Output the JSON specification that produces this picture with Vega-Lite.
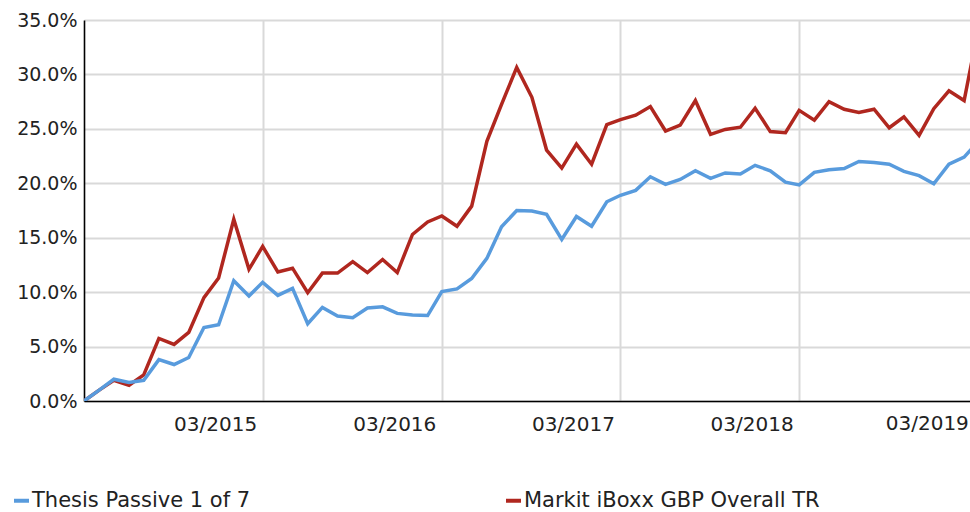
{
  "$schema": "https://vega.github.io/schema/vega-lite/v6.json",
  "width": 886,
  "height": 381,
  "autosize": {"type": "none"},
  "padding": {"left": 84, "top": 20, "right": 0, "bottom": 111},
  "background": "white",
  "config": {"font": "DejaVu Sans", "view": {"stroke": null}},
  "layer": [
    {
      "data": {
        "values": [
          {"date": "2014-03-01", "series": "Markit iBoxx GBP Overall TR", "value": 0},
          {"date": "2014-04-01", "series": "Markit iBoxx GBP Overall TR", "value": 1.0},
          {"date": "2014-05-01", "series": "Markit iBoxx GBP Overall TR", "value": 1.9},
          {"date": "2014-06-01", "series": "Markit iBoxx GBP Overall TR", "value": 1.45},
          {"date": "2014-07-01", "series": "Markit iBoxx GBP Overall TR", "value": 2.4},
          {"date": "2014-08-01", "series": "Markit iBoxx GBP Overall TR", "value": 5.75},
          {"date": "2014-09-01", "series": "Markit iBoxx GBP Overall TR", "value": 5.2},
          {"date": "2014-10-01", "series": "Markit iBoxx GBP Overall TR", "value": 6.3},
          {"date": "2014-11-01", "series": "Markit iBoxx GBP Overall TR", "value": 9.5},
          {"date": "2014-12-01", "series": "Markit iBoxx GBP Overall TR", "value": 11.3},
          {"date": "2015-01-01", "series": "Markit iBoxx GBP Overall TR", "value": 16.7},
          {"date": "2015-02-01", "series": "Markit iBoxx GBP Overall TR", "value": 12.1},
          {"date": "2015-03-01", "series": "Markit iBoxx GBP Overall TR", "value": 14.2},
          {"date": "2015-04-01", "series": "Markit iBoxx GBP Overall TR", "value": 11.85},
          {"date": "2015-05-01", "series": "Markit iBoxx GBP Overall TR", "value": 12.2},
          {"date": "2015-06-01", "series": "Markit iBoxx GBP Overall TR", "value": 9.95},
          {"date": "2015-07-01", "series": "Markit iBoxx GBP Overall TR", "value": 11.75},
          {"date": "2015-08-01", "series": "Markit iBoxx GBP Overall TR", "value": 11.75},
          {"date": "2015-09-01", "series": "Markit iBoxx GBP Overall TR", "value": 12.8},
          {"date": "2015-10-01", "series": "Markit iBoxx GBP Overall TR", "value": 11.8},
          {"date": "2015-11-01", "series": "Markit iBoxx GBP Overall TR", "value": 13.0},
          {"date": "2015-12-01", "series": "Markit iBoxx GBP Overall TR", "value": 11.8},
          {"date": "2016-01-01", "series": "Markit iBoxx GBP Overall TR", "value": 15.3},
          {"date": "2016-02-01", "series": "Markit iBoxx GBP Overall TR", "value": 16.45},
          {"date": "2016-03-01", "series": "Markit iBoxx GBP Overall TR", "value": 17.0},
          {"date": "2016-04-01", "series": "Markit iBoxx GBP Overall TR", "value": 16.05},
          {"date": "2016-05-01", "series": "Markit iBoxx GBP Overall TR", "value": 17.9},
          {"date": "2016-06-01", "series": "Markit iBoxx GBP Overall TR", "value": 23.85},
          {"date": "2016-07-01", "series": "Markit iBoxx GBP Overall TR", "value": 27.25},
          {"date": "2016-08-01", "series": "Markit iBoxx GBP Overall TR", "value": 30.65},
          {"date": "2016-09-01", "series": "Markit iBoxx GBP Overall TR", "value": 27.9},
          {"date": "2016-10-01", "series": "Markit iBoxx GBP Overall TR", "value": 23.05},
          {"date": "2016-11-01", "series": "Markit iBoxx GBP Overall TR", "value": 21.4},
          {"date": "2016-12-01", "series": "Markit iBoxx GBP Overall TR", "value": 23.6},
          {"date": "2017-01-01", "series": "Markit iBoxx GBP Overall TR", "value": 21.75},
          {"date": "2017-02-01", "series": "Markit iBoxx GBP Overall TR", "value": 25.4},
          {"date": "2017-03-01", "series": "Markit iBoxx GBP Overall TR", "value": 25.85},
          {"date": "2017-04-01", "series": "Markit iBoxx GBP Overall TR", "value": 26.25},
          {"date": "2017-05-01", "series": "Markit iBoxx GBP Overall TR", "value": 27.05},
          {"date": "2017-06-01", "series": "Markit iBoxx GBP Overall TR", "value": 24.8},
          {"date": "2017-07-01", "series": "Markit iBoxx GBP Overall TR", "value": 25.35},
          {"date": "2017-08-01", "series": "Markit iBoxx GBP Overall TR", "value": 27.6},
          {"date": "2017-09-01", "series": "Markit iBoxx GBP Overall TR", "value": 24.5},
          {"date": "2017-10-01", "series": "Markit iBoxx GBP Overall TR", "value": 24.95},
          {"date": "2017-11-01", "series": "Markit iBoxx GBP Overall TR", "value": 25.15},
          {"date": "2017-12-01", "series": "Markit iBoxx GBP Overall TR", "value": 26.9},
          {"date": "2018-01-01", "series": "Markit iBoxx GBP Overall TR", "value": 24.75},
          {"date": "2018-02-01", "series": "Markit iBoxx GBP Overall TR", "value": 24.65},
          {"date": "2018-03-01", "series": "Markit iBoxx GBP Overall TR", "value": 26.7},
          {"date": "2018-04-01", "series": "Markit iBoxx GBP Overall TR", "value": 25.8},
          {"date": "2018-05-01", "series": "Markit iBoxx GBP Overall TR", "value": 27.5},
          {"date": "2018-06-01", "series": "Markit iBoxx GBP Overall TR", "value": 26.8},
          {"date": "2018-07-01", "series": "Markit iBoxx GBP Overall TR", "value": 26.5},
          {"date": "2018-08-01", "series": "Markit iBoxx GBP Overall TR", "value": 26.8},
          {"date": "2018-09-01", "series": "Markit iBoxx GBP Overall TR", "value": 25.1},
          {"date": "2018-10-01", "series": "Markit iBoxx GBP Overall TR", "value": 26.1},
          {"date": "2018-11-01", "series": "Markit iBoxx GBP Overall TR", "value": 24.4},
          {"date": "2018-12-01", "series": "Markit iBoxx GBP Overall TR", "value": 26.85},
          {"date": "2019-01-01", "series": "Markit iBoxx GBP Overall TR", "value": 28.5},
          {"date": "2019-02-01", "series": "Markit iBoxx GBP Overall TR", "value": 27.6},
          {"date": "2019-03-01", "series": "Markit iBoxx GBP Overall TR", "value": 34.0},
          {"date": "2014-03-01", "series": "Thesis Passive 1 of 7", "value": 0},
          {"date": "2014-04-01", "series": "Thesis Passive 1 of 7", "value": 1.0},
          {"date": "2014-05-01", "series": "Thesis Passive 1 of 7", "value": 2.0},
          {"date": "2014-06-01", "series": "Thesis Passive 1 of 7", "value": 1.7},
          {"date": "2014-07-01", "series": "Thesis Passive 1 of 7", "value": 1.9},
          {"date": "2014-08-01", "series": "Thesis Passive 1 of 7", "value": 3.8},
          {"date": "2014-09-01", "series": "Thesis Passive 1 of 7", "value": 3.35},
          {"date": "2014-10-01", "series": "Thesis Passive 1 of 7", "value": 4.0},
          {"date": "2014-11-01", "series": "Thesis Passive 1 of 7", "value": 6.75},
          {"date": "2014-12-01", "series": "Thesis Passive 1 of 7", "value": 7.0},
          {"date": "2015-01-01", "series": "Thesis Passive 1 of 7", "value": 11.05},
          {"date": "2015-02-01", "series": "Thesis Passive 1 of 7", "value": 9.65},
          {"date": "2015-03-01", "series": "Thesis Passive 1 of 7", "value": 10.9},
          {"date": "2015-04-01", "series": "Thesis Passive 1 of 7", "value": 9.7},
          {"date": "2015-05-01", "series": "Thesis Passive 1 of 7", "value": 10.35},
          {"date": "2015-06-01", "series": "Thesis Passive 1 of 7", "value": 7.1},
          {"date": "2015-07-01", "series": "Thesis Passive 1 of 7", "value": 8.6},
          {"date": "2015-08-01", "series": "Thesis Passive 1 of 7", "value": 7.8},
          {"date": "2015-09-01", "series": "Thesis Passive 1 of 7", "value": 7.65},
          {"date": "2015-10-01", "series": "Thesis Passive 1 of 7", "value": 8.55},
          {"date": "2015-11-01", "series": "Thesis Passive 1 of 7", "value": 8.65},
          {"date": "2015-12-01", "series": "Thesis Passive 1 of 7", "value": 8.05},
          {"date": "2016-01-01", "series": "Thesis Passive 1 of 7", "value": 7.9},
          {"date": "2016-02-01", "series": "Thesis Passive 1 of 7", "value": 7.85},
          {"date": "2016-03-01", "series": "Thesis Passive 1 of 7", "value": 10.05},
          {"date": "2016-04-01", "series": "Thesis Passive 1 of 7", "value": 10.3},
          {"date": "2016-05-01", "series": "Thesis Passive 1 of 7", "value": 11.25},
          {"date": "2016-06-01", "series": "Thesis Passive 1 of 7", "value": 13.1},
          {"date": "2016-07-01", "series": "Thesis Passive 1 of 7", "value": 16.0},
          {"date": "2016-08-01", "series": "Thesis Passive 1 of 7", "value": 17.5},
          {"date": "2016-09-01", "series": "Thesis Passive 1 of 7", "value": 17.45},
          {"date": "2016-10-01", "series": "Thesis Passive 1 of 7", "value": 17.15},
          {"date": "2016-11-01", "series": "Thesis Passive 1 of 7", "value": 14.85},
          {"date": "2016-12-01", "series": "Thesis Passive 1 of 7", "value": 16.95},
          {"date": "2017-01-01", "series": "Thesis Passive 1 of 7", "value": 16.05},
          {"date": "2017-02-01", "series": "Thesis Passive 1 of 7", "value": 18.3},
          {"date": "2017-03-01", "series": "Thesis Passive 1 of 7", "value": 18.9},
          {"date": "2017-04-01", "series": "Thesis Passive 1 of 7", "value": 19.35},
          {"date": "2017-05-01", "series": "Thesis Passive 1 of 7", "value": 20.6},
          {"date": "2017-06-01", "series": "Thesis Passive 1 of 7", "value": 19.9},
          {"date": "2017-07-01", "series": "Thesis Passive 1 of 7", "value": 20.35},
          {"date": "2017-08-01", "series": "Thesis Passive 1 of 7", "value": 21.15},
          {"date": "2017-09-01", "series": "Thesis Passive 1 of 7", "value": 20.45},
          {"date": "2017-10-01", "series": "Thesis Passive 1 of 7", "value": 20.95},
          {"date": "2017-11-01", "series": "Thesis Passive 1 of 7", "value": 20.85},
          {"date": "2017-12-01", "series": "Thesis Passive 1 of 7", "value": 21.65},
          {"date": "2018-01-01", "series": "Thesis Passive 1 of 7", "value": 21.15},
          {"date": "2018-02-01", "series": "Thesis Passive 1 of 7", "value": 20.1},
          {"date": "2018-03-01", "series": "Thesis Passive 1 of 7", "value": 19.85},
          {"date": "2018-04-01", "series": "Thesis Passive 1 of 7", "value": 21.0},
          {"date": "2018-05-01", "series": "Thesis Passive 1 of 7", "value": 21.25},
          {"date": "2018-06-01", "series": "Thesis Passive 1 of 7", "value": 21.35},
          {"date": "2018-07-01", "series": "Thesis Passive 1 of 7", "value": 22.0},
          {"date": "2018-08-01", "series": "Thesis Passive 1 of 7", "value": 21.9},
          {"date": "2018-09-01", "series": "Thesis Passive 1 of 7", "value": 21.75},
          {"date": "2018-10-01", "series": "Thesis Passive 1 of 7", "value": 21.1},
          {"date": "2018-11-01", "series": "Thesis Passive 1 of 7", "value": 20.7},
          {"date": "2018-12-01", "series": "Thesis Passive 1 of 7", "value": 19.95},
          {"date": "2019-01-01", "series": "Thesis Passive 1 of 7", "value": 21.75},
          {"date": "2019-02-01", "series": "Thesis Passive 1 of 7", "value": 22.4},
          {"date": "2019-03-01", "series": "Thesis Passive 1 of 7", "value": 23.8}
        ]
      },
      "mark": {"type": "line", "strokeWidth": 3.5, "clip": true},
      "encoding": {
        "x": {
          "field": "date",
          "type": "temporal",
          "scale": {
            "type": "utc",
            "domain": [
              {"year": 2014, "month": 3, "date": 1, "utc": true},
              {"year": 2019, "month": 2, "date": 13, "utc": true}
            ]
          },
          "axis": {
            "title": null,
            "values": [
              {"year": 2015, "month": 3, "date": 1, "utc": true},
              {"year": 2016, "month": 3, "date": 1, "utc": true},
              {"year": 2017, "month": 3, "date": 1, "utc": true},
              {"year": 2018, "month": 3, "date": 1, "utc": true}
            ],
            "labelExpr": "utcFormat(datum.value, '%m/%Y')",
            "labelAlign": "right",
            "labelOffset": -6,
            "labelPadding": 13,
            "labelFontSize": 20,
            "labelColor": "#222222",
            "labelFlush": false,
            "labelOverlap": false,
            "ticks": false,
            "domainColor": "#000000",
            "domainWidth": 1.6,
            "gridColor": "#d9d9d9",
            "gridWidth": 2
          }
        },
        "y": {
          "field": "value",
          "type": "quantitative",
          "scale": {"domain": [0, 35], "nice": false},
          "axis": {
            "title": null,
            "values": [0, 5, 10, 15, 20, 25, 30, 35],
            "labelExpr": "format(datum.value, '.1f') + '%'",
            "labelFontSize": 19,
            "labelPadding": 7,
            "labelColor": "#222222",
            "ticks": false,
            "domainColor": "#000000",
            "domainWidth": 1.6,
            "gridColor": "#d9d9d9",
            "gridWidth": 2
          }
        },
        "color": {
          "field": "series",
          "type": "nominal",
          "scale": {
            "domain": ["Thesis Passive 1 of 7", "Markit iBoxx GBP Overall TR"],
            "range": ["#589BDD", "#B0271F"]
          },
          "legend": {
            "orient": "none",
            "legendX": -73,
            "legendY": 470,
            "direction": "horizontal",
            "title": null,
            "symbolType": "stroke",
            "symbolStrokeWidth": 4,
            "symbolSize": 225,
            "labelFontSize": 21,
            "labelColor": "#222222",
            "labelOffset": 0,
            "labelLimit": 500,
            "columnPadding": 247
          }
        }
      }
    },
    {
      "data": {"values": [{"date": "2019-03-01", "label": "03/2019"}]},
      "mark": {
        "type": "text",
        "align": "right",
        "baseline": "top",
        "dx": -9,
        "fontSize": 20,
        "color": "#222222",
        "font": "DejaVu Sans"
      },
      "encoding": {
        "x": {"field": "date", "type": "temporal"},
        "y": {"datum": -1.2, "type": "quantitative"},
        "text": {"field": "label"}
      }
    }
  ]
}
